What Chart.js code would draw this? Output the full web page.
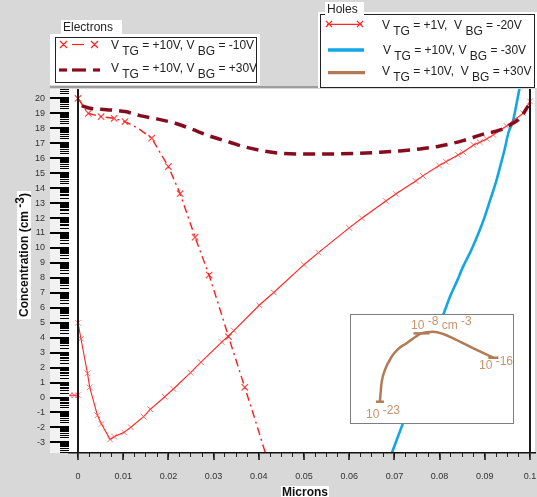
<!DOCTYPE html>
<html><head><meta charset="utf-8">
<script src="https://cdn.jsdelivr.net/npm/chart.js@4/dist/chart.umd.min.js"></script>
<style>
html,body{margin:0;padding:0;background:#d8d8d8;}
#wrap{position:relative;width:537px;height:497px;overflow:hidden;font-family:"Liberation Sans",Arial,sans-serif;}
#c{position:absolute;left:0;top:0;}
.abs{position:absolute;}
.white{position:absolute;background:#fff;}
.frame{position:absolute;border:1px solid #222;box-sizing:border-box;}
.ttl{position:absolute;background:#fff;font-size:12px;color:#222;line-height:14px;white-space:pre;}
.row{position:absolute;font-size:12px;color:#222;white-space:pre;line-height:14px;}
.row sub{font-size:12px;vertical-align:-6px;line-height:0;}
.ins{position:absolute;font-size:12px;color:#c8936e;white-space:pre;line-height:14px;}
.ins sup{font-size:12px;vertical-align:4px;line-height:0;}
.axt{position:absolute;background:#fff;font-size:12px;font-weight:bold;color:#111;white-space:pre;line-height:12px;}
.axt sup{font-size:12px;vertical-align:4px;line-height:0;}
</style>
</head><body>
<div id="wrap">
<canvas id="c" width="537" height="497"></canvas>

<div class="ins" style="left:411px;top:318px">10<sup> -8</sup> cm<sup> -3</sup></div>
<div class="ins" style="left:479px;top:358px">10<sup> -16</sup></div>
<div class="ins" style="left:366px;top:407px">10<sup> -23</sup></div>

<div class="white" style="left:50px;top:34px;width:210px;height:51px"></div>
<div class="frame" style="left:55px;top:37px;width:202px;height:46px"></div>
<div class="ttl" style="left:61px;top:20px;width:59px;height:14px;padding-left:2px">Electrons</div>
<div class="row" style="left:111px;top:38px">V<sub> TG</sub> = +10V, V<sub> BG</sub> = -10V</div>
<div class="row" style="left:111px;top:61px">V<sub> TG</sub> = +10V, V<sub> BG</sub> = +30V</div>

<div class="white" style="left:318px;top:12px;width:219px;height:76px"></div>
<div class="frame" style="left:320px;top:14px;width:215px;height:74px"></div>
<div class="ttl" style="left:325px;top:2px;width:37px;height:13px;padding-left:2px">Holes</div>
<div class="row" style="left:382px;top:18px">V<sub> TG</sub> = +1V,  V<sub> BG</sub> = -20V</div>
<div class="row" style="left:383px;top:43px">V<sub> TG</sub> = +10V, V<sub> BG</sub> = -30V</div>
<div class="row" style="left:382px;top:64px">V<sub> TG</sub> = +10V,  V<sub> BG</sub> = +30V</div>

<div class="axt" style="left:281px;top:486px;padding:0 1px">Microns</div>
<div class="axt" style="left:24px;top:255px;transform:translate(-50%,-50%) rotate(-90deg);padding:1px 2px">Concentration (cm<sup> -3</sup>)</div>

<svg class="abs" style="left:0;top:0" width="537" height="497">
  <g stroke="#ff2020" stroke-width="1.2" fill="none">
    <path d="M60 41 L67 48 M60 48 L67 41 M91 41 L98 48 M91 48 L98 41"/>
    <line x1="72" y1="44.5" x2="84" y2="44.5"/>
  </g>
  <g stroke="#8a0c1e" stroke-width="3.2">
    <line x1="59" y1="70" x2="67" y2="70"/><line x1="72" y1="70" x2="86" y2="70"/><line x1="93" y1="70" x2="100" y2="70"/>
  </g>
  <g stroke="#ff2a2a" stroke-width="1.2" fill="none">
    <path d="M326 21 L332 27 M326 27 L332 21 M357 21 L363 27 M357 27 L363 21"/>
    <line x1="327" y1="24.3" x2="362" y2="24.3"/>
  </g>
  <line x1="328" y1="50" x2="364" y2="50" stroke="#13a6e4" stroke-width="3.3"/>
  <line x1="328" y1="72.7" x2="365" y2="72.7" stroke="#b27b55" stroke-width="3.3"/>
</svg>
</div>
<script>
// ---- data ----
const xTickLabels = [0, 0.01, 0.02, 0.03, 0.04, 0.05, 0.06, 0.07, 0.08, 0.09, 0.1];
const yTickLabels = [-3,-2,-1,0,1,2,3,4,5,6,7,8,9,10,11,12,13,14,15,16,17,18,19,20];

// Electrons, VTG=+10V, VBG=-10V (dash-dot with markers)
const elecNeg10X = [0, 0.0023, 0.0051, 0.008, 0.0104, 0.0133, 0.0163, 0.02, 0.0226, 0.0259, 0.029, 0.031, 0.0333, 0.0369, 0.0392, 0.0415];
const elecNeg10Y = [20.0, 19.0, 18.78, 18.67, 18.45, 18.0, 17.34, 15.44, 13.63, 10.72, 8.19, 6.3, 4.07, 0.68, -1.5, -3.75];

// Electrons, VTG=+10V, VBG=+30V (thick dashed)
const elecPos30X = [0.0008, 0.0027, 0.0063, 0.0104, 0.0137, 0.0174, 0.0215, 0.0252, 0.029, 0.0336, 0.0366, 0.041, 0.0447, 0.0498, 0.0558, 0.0617, 0.0668, 0.0712, 0.0757, 0.0801, 0.0852, 0.0897, 0.0934, 0.0956, 0.0978, 0.0996];
const elecPos30Y = [19.52, 19.34, 19.25, 19.12, 18.85, 18.63, 18.34, 17.94, 17.5, 17.07, 16.78, 16.49, 16.33, 16.29, 16.29, 16.33, 16.4, 16.49, 16.62, 16.82, 17.18, 17.61, 17.89, 18.23, 18.68, 19.5];

// Holes, VTG=+1V, VBG=-20V (thin solid with markers)
const holesPos1X = [-0.0018, -0.0008, 0, 0, 0.00066, 0.0021, 0.0026, 0.0043, 0.0052, 0.0071, 0.008, 0.0102, 0.0117, 0.0145, 0.016, 0.0192, 0.0211, 0.0249, 0.0272, 0.0318, 0.0345, 0.0401, 0.0433, 0.05, 0.0532, 0.06, 0.0628, 0.0681, 0.0703, 0.0747, 0.0763, 0.0799, 0.0814, 0.0841, 0.0852, 0.0875, 0.0889, 0.0904, 0.0919, 0.0948, 0.0985, 0.1];
const holesPos1Y = [0.15, 0.15, 0.15, 5.0, 3.93, 1.62, 0.68, -1.19, -1.77, -2.8, -2.62, -2.33, -1.99, -1.28, -0.79, 0.05, 0.57, 1.66, 2.36, 3.71, 4.47, 6.17, 7.02, 8.88, 9.69, 11.34, 11.99, 13.14, 13.61, 14.48, 14.82, 15.51, 15.77, 16.22, 16.4, 16.89, 17.07, 17.29, 17.56, 18.16, 19.01, 19.8];

// Holes, VTG=+10V, VBG=-30V (blue)
const holesNeg30X = [0.0694, 0.0705, 0.0723, 0.0812, 0.0823, 0.0838, 0.0852, 0.0870, 0.0886, 0.0900, 0.0912, 0.0924, 0.0934, 0.0944, 0.0952, 0.0963, 0.0970, 0.0977];
const holesNeg30Y = [-3.75, -2.84, -1.4, 5.85, 6.74, 7.75, 8.75, 9.85, 10.98, 12.1, 13.21, 14.33, 15.44, 16.6, 17.67, 18.56, 19.6, 20.7];

// Holes, VTG=+10V, VBG=+30V (brown, drawn inside the inset)
const holesPos30X = [0.0668, 0.0670, 0.0672, 0.0679, 0.0694, 0.0708, 0.0727, 0.0760, 0.0786, 0.0808, 0.0830, 0.0875, 0.0919];
const holesPos30Y = [-0.28, 0.50, 1.06, 1.84, 2.73, 3.24, 3.63, 4.29, 4.40, 4.25, 3.96, 3.29, 2.66];

// ---- layout constants ----
const X_MIN = -0.00199, X_MAX = 0.10111, Y_MIN = -3.71, Y_MAX = 20.63;
const INSET = {x0: 0.0602, x1: 0.0962, y0: -1.71, y1: 5.59};

const pts = (xs, ys) => xs.map((x, i) => ({x, y: ys[i]}));
const yMinor = [];
for (let n = -4; n <= 20; n++) {
  for (let k = 2; k < 10; k += 1) {
    const v = n + Math.log10(k);
    if (v > Y_MIN && v < Y_MAX) yMinor.push({value: v});
  }
}
const xMinor = [];
for (let i = 0; i <= 40; i++) xMinor.push({value: i * 0.0025});

const noMarkElec = new Set([5, 11, 14, 15]);
const crossRed = 'rgba(255,40,40,0.85)';
const zeroPad = s => { s.paddingLeft = 0; s.paddingRight = 0; s.paddingTop = 0; s.paddingBottom = 0; };

const plug = {
  id: 'deco',
  beforeDraw(chart) {
    const {ctx, chartArea: a} = chart;
    ctx.save();
    ctx.fillStyle = '#ffffff';
    ctx.fillRect(a.left, a.top, a.right - a.left, a.bottom - a.top);
    ctx.fillStyle = '#f2f2f2';
    ctx.fillRect(50, a.top, a.left - 50, a.bottom - a.top);
    ctx.strokeStyle = '#8a8a8a';
    ctx.lineWidth = 1.5;
    ctx.beginPath(); ctx.moveTo(50, a.top - 2); ctx.lineTo(537, a.top - 2); ctx.stroke();
    ctx.restore();
  },
  afterDatasetDraw(chart, args) {
    if (args.index !== 4) return;
    const {ctx} = chart, sx = chart.scales.x, sy = chart.scales.y;
    const l = Math.round(sx.getPixelForValue(INSET.x0)) + 0.5, r = Math.round(sx.getPixelForValue(INSET.x1)) + 0.5;
    const t = Math.round(sy.getPixelForValue(INSET.y1)) + 0.5, b = Math.round(sy.getPixelForValue(INSET.y0)) + 0.5;
    ctx.save();
    ctx.fillStyle = '#fff';
    ctx.fillRect(l, t, r - l, b - t);
    ctx.strokeStyle = '#7d7d7d';
    ctx.lineWidth = 1;
    ctx.strokeRect(l, t, r - l, b - t);
    ctx.restore();
  }
};

new Chart(document.getElementById('c'), {
  type: 'scatter',
  data: {
    datasets: [
      { label: 'Holes VTG=+10V VBG=+30V', data: pts(holesPos30X, holesPos30Y), showLine: true,
        borderColor: '#b27b55', borderWidth: 2.5, cubicInterpolationMode: 'monotone',
        pointStyle: 'line', pointBorderColor: '#b27b55', pointBorderWidth: 2.5,
        pointRadius: c => c.dataIndex === 0 ? 4 : (c.dataIndex === 7 ? 8 : (c.dataIndex === holesPos30X.length - 1 ? 5 : 0)) },
      { label: 'Electrons VTG=+10V VBG=-10V', data: pts(elecNeg10X, elecNeg10Y), showLine: true,
        borderColor: '#ff1a1a', borderWidth: 1.4, borderDash: [8, 4, 2, 4], tension: 0,
        pointStyle: 'crossRot', pointBorderColor: crossRed, pointBorderWidth: 1.2,
        pointRadius: c => noMarkElec.has(c.dataIndex) ? 0 : 4.5 },
      { label: 'Electrons VTG=+10V VBG=+30V', data: pts(elecPos30X, elecPos30Y), showLine: true,
        borderColor: '#850c1e', borderWidth: 3.5, borderDash: [12, 7], cubicInterpolationMode: 'monotone', pointRadius: 0 },
      { label: 'Holes VTG=+1V VBG=-20V', data: pts(holesPos1X, holesPos1Y), showLine: true,
        borderColor: '#ff2222', borderWidth: 1.1, tension: 0,
        pointStyle: 'crossRot', pointBorderColor: 'rgba(255,70,70,0.75)', pointBorderWidth: 1, pointRadius: 4 },
      { label: 'Holes VTG=+10V VBG=-30V', data: pts(holesNeg30X, holesNeg30Y), showLine: true,
        borderColor: '#13a6e4', borderWidth: 2.6, cubicInterpolationMode: 'monotone', pointRadius: 0 }
    ]
  },
  options: {
    responsive: false, animation: false, events: [],
    layout: { autoPadding: false, padding: { top: 89, right: 2, left: 0, bottom: 0 } },
    plugins: { legend: { display: false }, tooltip: { enabled: false } },
    scales: {
      x: {
        type: 'linear', position: 'bottom', weight: 1, min: X_MIN, max: X_MAX, z: 1,
        afterBuildTicks: s => { s.ticks = xTickLabels.map(v => ({value: v})); },
        afterFit: s => { s.height = 44; zeroPad(s); },
        ticks: { autoSkip: false, maxRotation: 0, padding: 11, color: '#333',
          font: { family: 'Liberation Sans', size: 9 },
          callback: v => v === 0 ? '0' : String(+v.toFixed(3)) },
        grid: { z: 1, drawOnChartArea: true, tickLength: 7, tickWidth: 1.5, tickColor: '#111', lineWidth: 2,
          color: c => (c.tick && (Math.abs(c.tick.value) < 1e-9 || Math.abs(c.tick.value - 0.1) < 1e-9)) ? '#1a1a1a' : 'rgba(0,0,0,0)' },
        border: { z: 1, display: true, color: '#111', width: 1.5 }
      },
      x2: {
        type: 'linear', position: 'bottom', weight: 0, min: X_MIN, max: X_MAX,
        afterBuildTicks: s => { s.ticks = xMinor.slice(); },
        afterFit: s => { s.height = 0; zeroPad(s); },
        ticks: { display: false },
        grid: { drawOnChartArea: false, tickLength: 4, tickColor: '#222', lineWidth: 1 },
        border: { display: false }
      },
      y: {
        type: 'linear', position: 'left', weight: 1, min: Y_MIN, max: Y_MAX,
        afterBuildTicks: s => { s.ticks = yTickLabels.map(v => ({value: v})); },
        afterFit: s => { s.width = 69; zeroPad(s); },
        ticks: { autoSkip: false, padding: 5, color: '#333', font: { family: 'Liberation Sans', size: 9 } },
        grid: { drawOnChartArea: false, tickLength: 19, tickWidth: 2, tickColor: '#000', lineWidth: 2 },
        border: { display: false }
      },
      y2: {
        type: 'linear', position: 'left', weight: 0, min: Y_MIN, max: Y_MAX,
        afterBuildTicks: s => { s.ticks = yMinor.slice(); },
        afterFit: s => { s.width = 0; zeroPad(s); },
        ticks: { display: false },
        grid: { drawOnChartArea: false, tickLength: 9, tickWidth: 1, tickColor: '#000', lineWidth: 1 },
        border: { display: false }
      }
    }
  },
  plugins: [plug]
});
</script>
</body></html>
